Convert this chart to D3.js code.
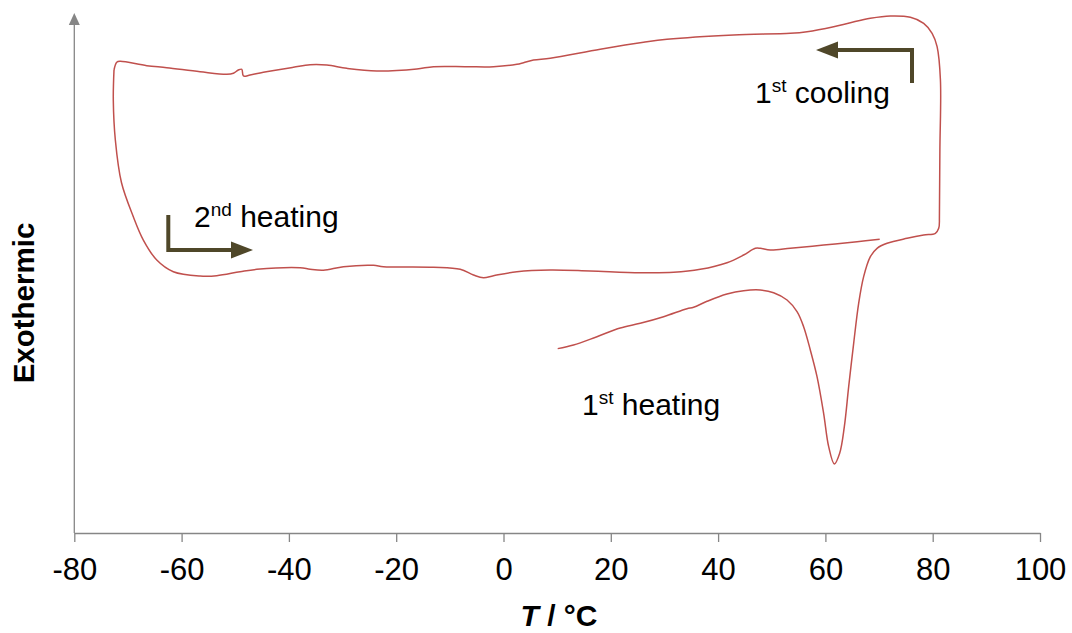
<!DOCTYPE html>
<html>
<head>
<meta charset="utf-8">
<script src="https://cdn.jsdelivr.net/npm/d3@7"></script>
<style>
  html, body { margin: 0; padding: 0; background: #fff; }
  svg { display: block; font-family: "Liberation Sans", Arial, sans-serif; }
</style>
</head>
<body>
<svg id="chart" width="1072" height="633"></svg>
<script>
// DSC trace: temperature (°C) and heat flow (arbitrary units, exo up)
const heat1T = [10.1, 13.05, 17.42, 21.76, 25.49, 29.84, 34.2, 35.43, 37.93, 41.66, 44.76, 47.87, 50.35, 52.85, 54.71, 55.94, 57.19, 58.44, 59.67, 60.61, 61.67, 62.66, 63.53, 64.34, 65.27, 66.2, 67.13, 68.38, 69.63, 71.5, 75.23, 78.32, 80.5, 81.12, 81.25];
const heat1Q = [35.8, 36.5, 38.12, 39.81, 40.72, 42.0, 43.55, 43.83, 44.99, 46.41, 47.05, 47.18, 46.66, 45.24, 42.97, 40.06, 35.53, 30.35, 23.24, 16.76, 13.4, 15.48, 20.64, 28.41, 36.83, 44.6, 49.77, 53.65, 55.28, 56.25, 57.22, 57.86, 58.19, 59.17, 60.78];

const coolT = [81.25, 81.34, 81.44, 80.82, 79.89, 78.32, 75.84, 72.11, 68.38, 64.65, 61.54, 56.58, 53.46, 42.89, 30.47, 26.11, 18.03, 8.71, 5.59, 3.73, 2.5, -1.86, -6.83, -13.05, -16.15, -23.61, -29.2, -32.93, -36.05, -39.16, -44.76, -47.24, -48.48, -48.78, -49.42, -50.35, -51.58, -56.56, -62.77, -66.5, -71.48, -72.09, -72.6];
const coolQ = [60.78, 74.37, 87.96, 94.43, 97.03, 98.97, 100.14, 100.39, 99.94, 99.09, 98.31, 97.34, 97.03, 96.7, 95.86, 95.28, 93.92, 92.17, 91.84, 91.32, 91.01, 90.54, 90.54, 90.54, 90.1, 89.71, 90.23, 90.87, 90.93, 90.43, 89.46, 88.93, 88.74, 90.04, 89.9, 89.26, 89.07, 89.57, 90.35, 90.74, 91.59, 91.4, 89.9];

const heat2T = [-72.6, -72.73, -72.35, -71.2, -69.0, -67.13, -64.63, -61.54, -56.56, -53.45, -49.1, -45.99, -37.91, -36.05, -33.57, -29.84, -24.24, -22.38, -13.05, -8.07, -5.59, -3.73, -1.86, 2.5, 8.71, 16.17, 25.49, 31.7, 36.68, 41.66, 44.76, 46.94, 47.87, 49.73, 53.46, 59.67, 65.9, 70.12];
const heat2Q = [89.9, 84.08, 76.31, 68.0, 61.42, 56.89, 53.01, 50.74, 49.9, 49.96, 50.74, 51.2, 51.52, 51.2, 51.01, 51.71, 51.98, 51.71, 51.59, 51.2, 50.1, 49.57, 49.96, 50.74, 51.07, 50.87, 50.54, 50.62, 51.2, 52.49, 53.98, 55.28, 55.28, 54.95, 55.28, 55.92, 56.56, 57.03];

const xTicks = [-80, -60, -40, -20, 0, 20, 40, 60, 80, 100];

const svg = d3.select("#chart");
const axisColor = "#868686";
const traceColor = "#c0504d";
const arrowColor = "#4f4729";

const x = d3.scaleLinear().domain([-80, 100]).range([74.3, 1040]);
const y = d3.scaleLinear().domain([0, 100]).range([533, 18]);

// x axis (plain hyphen for negatives)
const xAxis = d3.axisBottom(x).tickValues(xTicks).tickSize(9).tickSizeOuter(0).tickPadding(16)
  .tickFormat(d => String(d));
const gx = svg.append("g").attr("transform", `translate(0,${y(0)})`).call(xAxis);
gx.select(".domain").attr("stroke", axisColor).attr("stroke-width", 1.3);
gx.selectAll(".tick line").attr("stroke", axisColor).attr("stroke-width", 1.3);
gx.selectAll(".tick text").attr("fill", "#000").attr("font-size", 31)
  .attr("font-family", "Liberation Sans, Arial, sans-serif");

// y axis with arrow head, no ticks
svg.append("line")
  .attr("x1", x(-80)).attr("x2", x(-80))
  .attr("y1", y(0)).attr("y2", 24)
  .attr("stroke", axisColor).attr("stroke-width", 1.3);
svg.append("path")
  .attr("d", `M${x(-80)},13 L${x(-80) + 5.5},25 L${x(-80) - 5.5},25 Z`)
  .attr("fill", axisColor);

// axis titles
svg.append("text")
  .attr("transform", `translate(34,303) rotate(-90)`)
  .attr("text-anchor", "middle")
  .attr("font-size", 29.5).attr("font-weight", "bold")
  .text("Exothermic");

const xt = svg.append("text")
  .attr("x", 559).attr("y", 626)
  .attr("text-anchor", "middle")
  .attr("font-size", 30).attr("font-weight", "bold");
xt.append("tspan").attr("font-style", "italic").text("T");
xt.append("tspan").text(" / °C");

// trace
const line = d3.line()
  .x(d => x(d[0])).y(d => y(d[1]))
  .curve(d3.curveCatmullRom.alpha(0.5));

const segments = [
  d3.zip(heat1T, heat1Q),
  d3.zip(coolT, coolQ),
  d3.zip(heat2T, heat2Q)
];
svg.append("g").selectAll("path").data(segments).join("path")
  .attr("d", line)
  .attr("fill", "none")
  .attr("stroke", traceColor)
  .attr("stroke-width", 1.5)
  .attr("stroke-linejoin", "round");

// direction arrows
function bentArrow(pts, tip) {
  const g = svg.append("g");
  g.append("path")
    .attr("d", d3.line()(pts))
    .attr("fill", "none").attr("stroke", arrowColor).attr("stroke-width", 4);
  g.append("path").attr("d", tip).attr("fill", arrowColor);
}
// cooling: down-to-up then leftwards
bentArrow([[912, 83], [912, 50], [836, 50]], "M816,50 L838,41.5 L838,58.5 Z");
// heating: down then rightwards
bentArrow([[168.3, 215], [168.3, 250], [233, 250]], "M253,250 L231,241.5 L231,258.5 Z");

// labels
function label(px, py, num, sup, rest) {
  const t = svg.append("text").attr("x", px).attr("y", py).attr("font-size", 30);
  t.append("tspan").text(num);
  t.append("tspan").attr("font-size", 19).attr("dy", -11).text(sup);
  t.append("tspan").attr("dy", 11).text(rest);
}
label(755, 103, "1", "st", " cooling");
label(194, 227, "2", "nd", " heating");
label(582, 415, "1", "st", " heating");
</script>
</body>
</html>
